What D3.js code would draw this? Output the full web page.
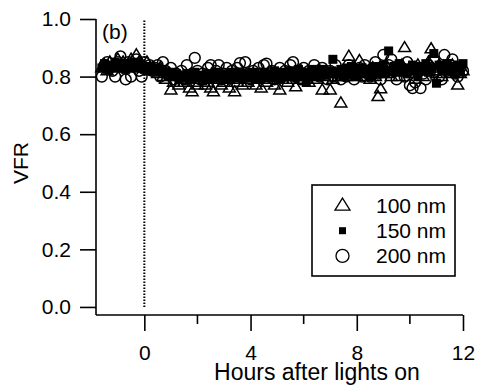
<!DOCTYPE html>
<html>
<head>
<meta charset="utf-8">
<script src="https://cdn.jsdelivr.net/npm/d3@7/dist/d3.min.js"></script>
<style>
  html, body { margin: 0; padding: 0; background: #fff; }
  svg { display: block; }
  text { font-family: "Liberation Sans", Arial, Helvetica, sans-serif; fill: #000; }
</style>
</head>
<body>
<svg id="chart" width="477" height="385"></svg>
<script>
// Sampling times (hours after lights on)
const times = [
  -1.6,-1.5,-1.4,-1.3,-1.2,-1.1,-1.0,-0.9,-0.8,-0.7,
  -0.6,-0.5,-0.4,-0.3,-0.2,-0.1,0.0,0.1,0.2,0.3,
  0.4,0.5,0.6,0.7,0.8,0.9,1.0,1.1,1.2,1.3,
  1.4,1.5,1.6,1.7,1.8,1.9,2.0,2.1,2.2,2.3,
  2.4,2.5,2.6,2.7,2.8,2.9,3.0,3.1,3.2,3.3,
  3.4,3.5,3.6,3.7,3.8,3.9,4.0,4.1,4.2,4.3,
  4.4,4.5,4.6,4.7,4.8,4.9,5.0,5.1,5.2,5.3,
  5.4,5.5,5.6,5.7,5.8,5.9,6.0,6.1,6.2,6.3,
  6.4,6.5,6.6,6.7,6.8,6.9,7.0,7.1,7.2,7.3,
  7.4,7.5,7.6,7.7,7.8,7.9,8.0,8.1,8.2,8.3,
  8.4,8.5,8.6,8.7,8.8,8.9,9.0,9.1,9.2,9.3,
  9.4,9.5,9.6,9.7,9.8,9.9,10.0,10.1,10.2,10.3,
  10.4,10.5,10.6,10.7,10.8,10.9,11.0,11.1,11.2,11.3,
  11.4,11.5,11.6,11.7,11.8,11.9,12.0
];

// VFR, 100 nm particles
const vfr100 = [
  0.83,0.84,0.82,0.85,0.84,0.83,0.86,0.84,0.85,0.83,
  0.84,0.86,0.83,0.875,0.85,0.84,0.83,0.85,0.82,0.83,
  0.82,0.81,0.83,0.80,0.79,0.81,0.753,0.78,0.80,0.77,
  0.79,0.78,0.80,0.76,0.747,0.78,0.77,0.79,0.80,0.77,
  0.78,0.76,0.747,0.79,0.80,0.77,0.78,0.79,0.76,0.80,
  0.747,0.78,0.79,0.77,0.80,0.78,0.79,0.81,0.77,0.79,
  0.76,0.80,0.78,0.79,0.81,0.77,0.80,0.753,0.79,0.80,
  0.78,0.81,0.79,0.764,0.80,0.82,0.79,0.80,0.78,0.81,
  0.80,0.79,0.82,0.753,0.80,0.81,0.753,0.79,0.81,0.80,
  0.708,0.82,0.80,0.87,0.81,0.83,0.80,0.855,0.82,0.80,
  0.81,0.79,0.83,0.80,0.73,0.757,0.82,0.84,0.81,0.80,
  0.83,0.82,0.80,0.84,0.90,0.82,0.83,0.81,0.79,0.84,
  0.82,0.80,0.83,0.85,0.896,0.82,0.81,0.84,0.80,0.83,
  0.82,0.81,0.84,0.83,0.77,0.81,0.82
];

// VFR, 150 nm particles
const vfr150 = [
  0.83,0.845,0.825,0.84,0.835,0.85,0.83,0.845,0.84,0.825,
  0.845,0.835,0.85,0.83,0.845,0.84,0.825,0.835,0.83,0.825,
  0.82,0.83,0.815,0.825,0.81,0.80,0.815,0.80,0.81,0.79,
  0.805,0.795,0.81,0.79,0.80,0.815,0.795,0.805,0.785,0.80,
  0.81,0.79,0.80,0.815,0.795,0.805,0.79,0.81,0.80,0.815,
  0.795,0.805,0.815,0.79,0.80,0.81,0.795,0.815,0.80,0.79,
  0.805,0.815,0.795,0.81,0.80,0.82,0.80,0.79,0.815,0.805,
  0.80,0.82,0.81,0.80,0.825,0.805,0.815,0.78,0.815,0.825,
  0.81,0.80,0.82,0.825,0.805,0.815,0.82,0.86,0.815,0.81,
  0.825,0.80,0.83,0.81,0.835,0.815,0.80,0.825,0.83,0.81,
  0.825,0.80,0.815,0.835,0.81,0.82,0.84,0.81,0.889,0.82,
  0.835,0.815,0.845,0.82,0.83,0.81,0.825,0.84,0.82,0.80,
  0.835,0.82,0.845,0.815,0.83,0.88,0.777,0.84,0.82,0.83,
  0.845,0.82,0.835,0.81,0.84,0.82,0.845
];

// VFR, 200 nm particles
const vfr200 = [
  0.80,0.84,0.85,0.83,0.82,0.80,0.85,0.87,0.84,0.79,
  0.85,0.80,0.84,0.86,0.82,0.80,0.85,0.83,0.84,0.82,
  0.83,0.84,0.80,0.85,0.82,0.81,0.83,0.79,0.81,0.80,
  0.82,0.79,0.84,0.80,0.81,0.865,0.82,0.79,0.81,0.80,
  0.83,0.84,0.80,0.82,0.84,0.79,0.81,0.83,0.80,0.82,
  0.81,0.83,0.847,0.80,0.85,0.81,0.79,0.82,0.80,0.83,
  0.81,0.84,0.845,0.80,0.82,0.79,0.81,0.83,0.80,0.82,
  0.81,0.84,0.85,0.80,0.82,0.79,0.83,0.80,0.82,0.81,
  0.84,0.82,0.80,0.83,0.81,0.79,0.82,0.80,0.84,0.81,
  0.79,0.82,0.80,0.84,0.81,0.79,0.82,0.83,0.80,0.84,
  0.82,0.80,0.83,0.85,0.81,0.79,0.875,0.82,0.84,0.86,
  0.82,0.79,0.84,0.83,0.80,0.85,0.77,0.76,0.78,0.83,
  0.76,0.81,0.79,0.84,0.83,0.86,0.82,0.80,0.79,0.875,
  0.82,0.84,0.86,0.81,0.80,0.83,0.82
];

const xMajorTicks = [0, 4, 8, 12];
const xMinorTicks = [2, 6, 10];
const yTicks = [0.0, 0.2, 0.4, 0.6, 0.8, 1.0];
const seriesNames = ["100 nm", "150 nm", "200 nm"];
const panelLabel = "(b)";
const xTitle = "Hours after lights on";
const yTitle = "VFR";

const svg = d3.select("#chart");
const FONT = 21;

const x = d3.scaleLinear().domain([-1.82, 12]).range([96, 463]);
const y = d3.scaleLinear().domain([-0.028, 1.0]).range([315, 19]);

// Marker shapes
const triPath = (w, h) => `M0,${-h * 0.62}L${w / 2},${h * 0.38}L${-w / 2},${h * 0.38}Z`;

function drawMarker(g, kind, big) {
  if (kind === "tri") {
    g.append("path").attr("d", big ? triPath(15, 12) : triPath(12, 10))
      .attr("fill", "none").attr("stroke", "#000").attr("stroke-width", big ? 1.3 : 1.5)
      .attr("stroke-linejoin", "miter");
  } else if (kind === "sq") {
    const s = big ? 7 : 9;
    g.append("rect").attr("x", -s / 2).attr("y", -s / 2).attr("width", s).attr("height", s)
      .attr("fill", "#000");
  } else {
    g.append("circle").attr("r", big ? 6.5 : 5.4)
      .attr("fill", "none").attr("stroke", "#000").attr("stroke-width", big ? 1.3 : 1.5);
  }
}

// Dotted line marking lights on
svg.append("line")
  .attr("x1", x(0)).attr("x2", x(0))
  .attr("y1", y(0)).attr("y2", y(1))
  .attr("stroke", "#000").attr("stroke-width", 2)
  .attr("stroke-dasharray", "1.5,1.5");

// Data series
const series = [
  { values: vfr100, kind: "tri" },
  { values: vfr150, kind: "sq" },
  { values: vfr200, kind: "circ" }
];
series.forEach(s => {
  const g = svg.append("g");
  times.forEach((t, i) => {
    const m = g.append("g").attr("transform", `translate(${x(t)},${y(s.values[i])})`);
    drawMarker(m, s.kind, false);
  });
});

// Axes
const axisW = 1.6;
const yAxis = d3.axisLeft(y).tickValues(yTicks).tickSize(16).tickPadding(9)
  .tickFormat(d3.format(".1f"));
const gy = svg.append("g").attr("transform", `translate(${x.range()[0]},0)`).call(yAxis);
gy.select(".domain").remove();
gy.append("line").attr("x1", 0).attr("x2", 0).attr("y1", y(1)).attr("y2", y.range()[0])
  .attr("stroke", "#000").attr("stroke-width", axisW);
gy.selectAll(".tick line").attr("stroke", "#000").attr("stroke-width", axisW);
gy.selectAll(".tick text").attr("font-size", FONT).attr("fill", "#000")
  .attr("font-family", "Liberation Sans, Arial, sans-serif");

const xAxis = d3.axisBottom(x).tickValues(xMajorTicks).tickSize(16).tickPadding(14)
  .tickFormat(d3.format("d"));
const gx = svg.append("g").attr("transform", `translate(0,${y.range()[0]})`).call(xAxis);
gx.select(".domain").remove();
gx.append("line").attr("x1", x.range()[0]).attr("x2", x(12)).attr("y1", 0).attr("y2", 0)
  .attr("stroke", "#000").attr("stroke-width", axisW);
gx.selectAll(".tick line").attr("stroke", "#000").attr("stroke-width", axisW);
gx.selectAll(".tick text").attr("font-size", FONT).attr("fill", "#000")
  .attr("font-family", "Liberation Sans, Arial, sans-serif");
gx.selectAll(".minor").data(xMinorTicks).enter().append("line")
  .attr("x1", d => x(d)).attr("x2", d => x(d)).attr("y1", 0).attr("y2", 9)
  .attr("stroke", "#000").attr("stroke-width", axisW);

// Axis titles
svg.append("text").attr("x", 317).attr("y", 380).attr("text-anchor", "middle")
  .attr("font-size", 23).text(xTitle);
svg.append("text").attr("transform", "translate(28,163) rotate(-90)")
  .attr("text-anchor", "middle").attr("font-size", FONT).text(yTitle);

// Panel label
svg.append("text").attr("x", 102).attr("y", 38.5).attr("font-size", FONT).text(panelLabel);

// Legend
const lg = svg.append("g");
lg.append("rect").attr("x", 312).attr("y", 185).attr("width", 143).attr("height", 91)
  .attr("fill", "#fff").attr("stroke", "#000").attr("stroke-width", 1.6);
const kinds = ["tri", "sq", "circ"];
seriesNames.forEach((name, i) => {
  const cy = 205.5 + i * 25.2;
  const m = lg.append("g").attr("transform", `translate(342.5,${cy})`);
  drawMarker(m, kinds[i], true);
  lg.append("text").attr("x", 376).attr("y", cy).attr("dy", "0.36em")
    .attr("font-size", FONT).text(name);
});
</script>
</body>
</html>
